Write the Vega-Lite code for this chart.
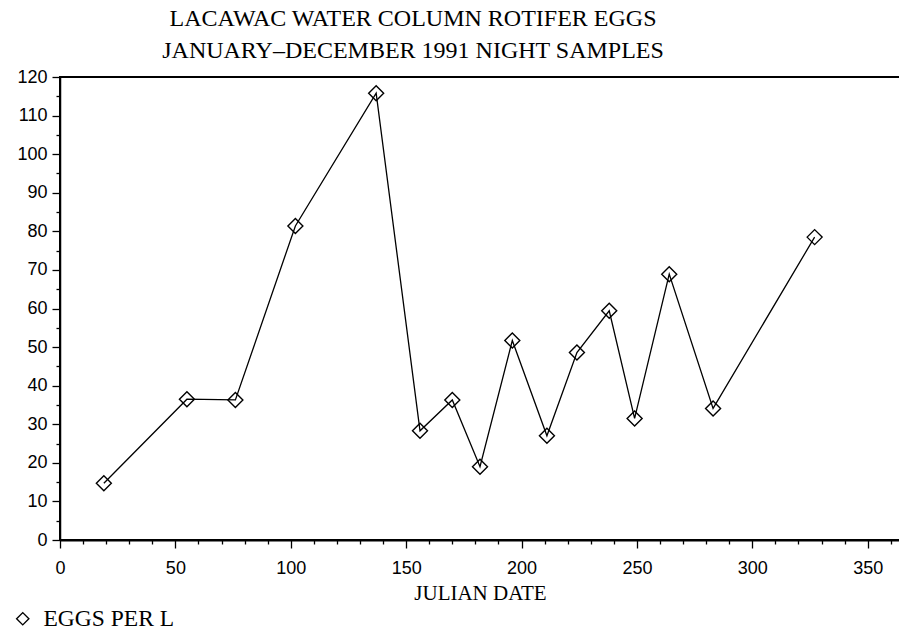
{
  "$schema": "https://vega.github.io/schema/vega-lite/v6.json",
  "autosize": {"type": "none"},
  "padding": {"left": 60, "top": 77, "right": 0, "bottom": 91},
  "width": 840,
  "height": 463,
  "background": "white",
  "title": {
    "text": ["LACAWAC WATER COLUMN ROTIFER EGGS", "JANUARY–DECEMBER 1991 NIGHT SAMPLES"],
    "font": "Liberation Serif",
    "fontSize": 24,
    "fontWeight": "normal",
    "color": "black",
    "anchor": "middle",
    "frame": "group",
    "baseline": "alphabetic",
    "lineHeight": 32,
    "offset": -14,
    "dx": -67
  },
  "config": {
    "view": {"stroke": "black", "strokeWidth": 2},
    "axis": {
      "domainColor": "black",
      "tickColor": "black",
      "labelColor": "black",
      "titleColor": "black",
      "grid": false,
      "labelFont": "Liberation Sans",
      "labelFontSize": 18,
      "titleFont": "Liberation Serif",
      "titleFontSize": 21,
      "titleFontWeight": "normal"
    }
  },
  "data": {
    "values": [
      {"julian": 19, "eggs": 14.7},
      {"julian": 55, "eggs": 36.5},
      {"julian": 76, "eggs": 36.3},
      {"julian": 102, "eggs": 81.4},
      {"julian": 137, "eggs": 115.8},
      {"julian": 156, "eggs": 28.3},
      {"julian": 170, "eggs": 36.3},
      {"julian": 182, "eggs": 19.0},
      {"julian": 196, "eggs": 51.7},
      {"julian": 211, "eggs": 27.0},
      {"julian": 224, "eggs": 48.6},
      {"julian": 238, "eggs": 59.4},
      {"julian": 249, "eggs": 31.5},
      {"julian": 264, "eggs": 68.9},
      {"julian": 283, "eggs": 34.1},
      {"julian": 327, "eggs": 78.5}
    ]
  },
  "encoding": {
    "x": {
      "field": "julian",
      "type": "quantitative",
      "scale": {"domain": [0, 364], "nice": false, "zero": false},
      "axis": {
        "title": "JULIAN DATE",
        "values": [0,10,20,30,40,50,60,70,80,90,100,110,120,130,140,150,160,170,180,190,200,210,220,230,240,250,260,270,280,290,300,310,320,330,340,350,360],
        "labelExpr": "datum.value % 50 === 0 ? datum.label : ''",
        "tickSize": {"condition": {"test": "datum.value % 50 === 0", "value": 8}, "value": 4},
        "tickWidth": 1.3,
        "domainWidth": 2,
        "labelPadding": 11,
        "titlePadding": 5,
        "labelFlush": false,
        "labelOverlap": false
      }
    },
    "y": {
      "field": "eggs",
      "type": "quantitative",
      "scale": {"domain": [0, 120], "nice": false},
      "axis": {
        "title": null,
        "values": [0,5,10,15,20,25,30,35,40,45,50,55,60,65,70,75,80,85,90,95,100,105,110,115,120],
        "labelExpr": "datum.value % 10 === 0 ? datum.label : ''",
        "tickSize": {"condition": {"test": "datum.value % 10 === 0", "value": 8}, "value": 4},
        "tickWidth": 1.3,
        "domainWidth": 1.5,
        "labelPadding": 5,
        "labelOverlap": false
      }
    }
  },
  "layer": [
    {
      "mark": {"type": "line", "color": "black", "strokeWidth": 1.3}
    },
    {
      "mark": {"type": "point", "shape": "diamond", "filled": false, "stroke": "black", "strokeWidth": 1.4, "size": 225, "opacity": 1},
      "encoding": {
        "shape": {
          "datum": "EGGS PER L",
          "scale": {"range": ["diamond"]},
          "legend": {
            "title": null,
            "orient": "none",
            "legendX": -49,
            "legendY": 530,
            "labelFont": "Liberation Serif",
            "labelFontSize": 23.5,
            "labelColor": "black",
            "symbolStrokeColor": "black",
            "symbolStrokeWidth": 1.4,
            "symbolSize": 150,
            "symbolFillColor": "transparent",
            "labelOffset": 9
          }
        }
      }
    }
  ]
}
